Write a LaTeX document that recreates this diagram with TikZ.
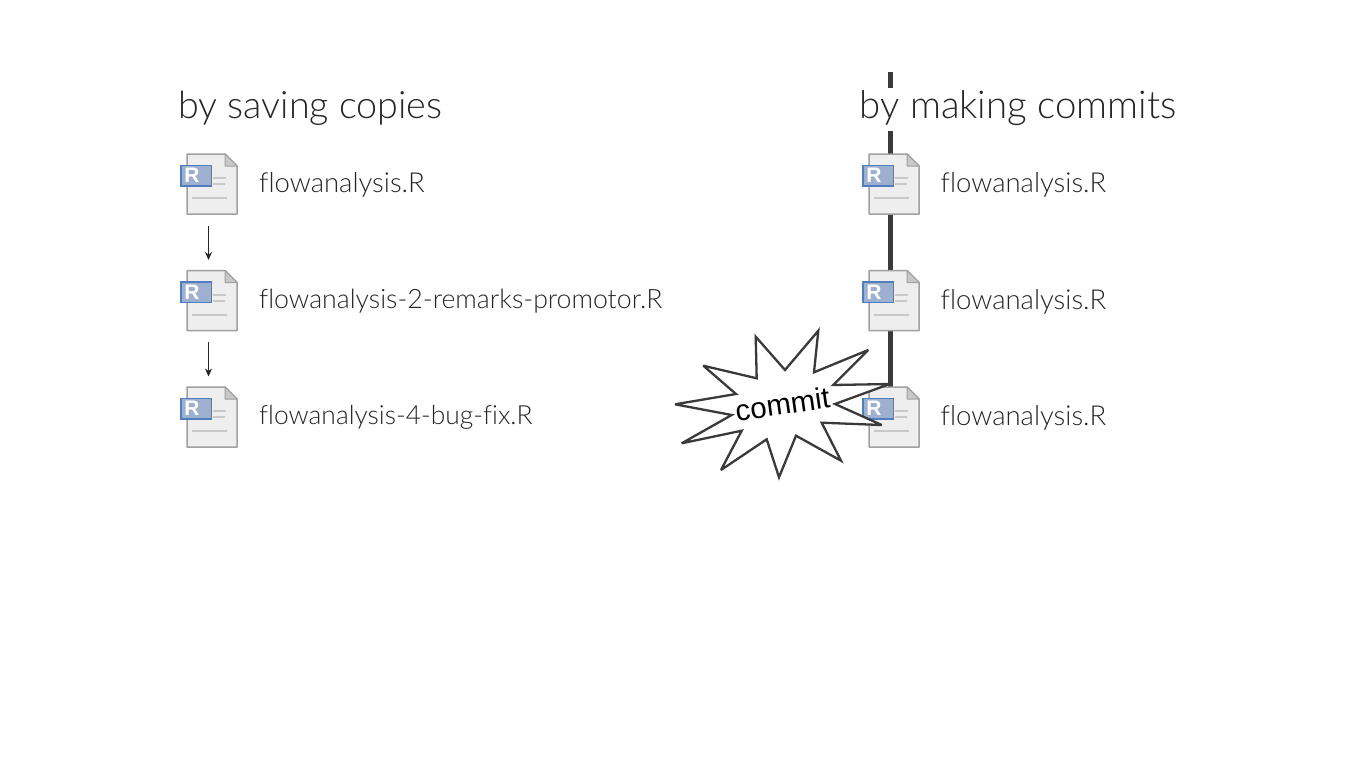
\documentclass[tikz,border=0pt]{standalone}
\usepackage{fontspec}
\setmainfont{Lato Light}[Ligatures=NoCommon]
\newfontfamily\starfont{Liberation Sans}
\usetikzlibrary{arrows.meta}
\definecolor{inkc}{HTML}{262626}
\definecolor{barc}{HTML}{3A3A3A}
\definecolor{paperc}{HTML}{EEEEEE}
\definecolor{edgec}{HTML}{A0A0A0}
\definecolor{foldc}{HTML}{C8C8C8}
\definecolor{markc}{HTML}{C8C8C8}
\definecolor{badgec}{HTML}{9DB0D0}
\definecolor{badgee}{HTML}{4F7DC0}
\tikzset{
  x=1pt,y=-1pt,
  filebox/.style={minimum width=50pt,minimum height=60pt,inner sep=0pt,outer sep=0pt},
  title/.style={anchor=base west,text=inkc,fill=white,inner ysep=0pt,inner xsep=1pt,text height=30pt,text depth=13pt},
  fname/.style={anchor=west,text=inkc,inner sep=0pt},
  short/.style={fname,font=\fontsize{27.5}{30}\selectfont},
  longn/.style={fname,font=\fontsize{26.7}{30}\selectfont},
  midn/.style={fname,font=\fontsize{26.4}{30}\selectfont},
  arr/.style={draw=black!85,line width=0.9pt,-{Stealth[length=8pt,width=7pt]}},
  hist/.style={draw=barc,line width=4.6pt},
  pics/ficon/.style={code={
    \path[fill=paperc,draw=edgec,line width=1.5pt,line join=round]
      (-25,-30) -- (13,-30) -- (25,-18) -- (25,30) -- (-25,30) -- cycle;
    \path[fill=foldc,draw=edgec,line width=1pt,line join=round]
      (13,-30) -- (13,-18) -- (25,-18) -- cycle;
    \draw[markc,line width=2pt] (1,-6) -- (14,-6) (1,0) -- (13,0) (-20,14) -- (15,14);
    \path[fill=badgec,draw=badgee,line width=1.5pt] (-31,-18.5) rectangle (-0.5,2);
    \node[text=white,font=\starfont\bfseries\fontsize{21}{22}\selectfont,inner sep=0pt] at (-20,-8.5) {R};
  }}
}
\begin{document}
\begin{tikzpicture}
\useasboundingbox (0,0) rectangle (1371,771);
\fill[white] (0,0) rectangle (1371,771);
% right column history line (behind everything)
\coordinate (histtop) at (890.5,72);
\node[filebox] (r1) at (894,184) {};
\node[filebox] (r2) at (894,300.5) {};
\node[filebox] (r3) at (894,417) {};
\draw[hist] (histtop) -- (r3.north -| histtop);
% titles
\node[title,font=\fontsize{37.7}{40}\selectfont] (t1) at (177,118) {by saving copies};
\node[title,font=\fontsize{38.4}{40}\selectfont] (t2) at (858.5,118) {by making commits};
% left column
\node[filebox] (l1) at (212,184) {};
\node[filebox] (l2) at (212,300.5) {};
\node[filebox] (l3) at (212,417) {};
\pic at (l1) {ficon};
\pic at (l2) {ficon};
\pic at (l3) {ficon};
\pic at (r1) {ficon};
\pic at (r2) {ficon};
\pic at (r3) {ficon};
\draw[arr] ([xshift=-3.5pt,yshift=-11.5pt]l1.south) -- ([xshift=-3.5pt,yshift=10.5pt]l2.north);
\draw[arr] ([xshift=-3.5pt,yshift=-11.5pt]l2.south) -- ([xshift=-3.5pt,yshift=10.5pt]l3.north);
% file names
\node[short] (n1) at (259,185) {flowanalysis.R};
\node[longn] (n2) at (259,301.5) {flowanalysis-2-remarks-promotor.R};
\node[midn] (n3) at (259,417.5) {flowanalysis-4-bug-fix.R};
\node[short] (m1) at (940.5,185) {flowanalysis.R};
\node[short] (m2) at (940.5,301.5) {flowanalysis.R};
\node[short] (m3) at (940.5,417.5) {flowanalysis.R};
% burst
\path[fill=white,draw=barc,line width=2.3pt,line join=miter,miter limit=4]
 (755.7,336.7) -- (785,370) -- (818.3,330.7) -- (814,372.3) -- (868.3,350) -- (833.3,385)
 -- (889.7,384) -- (835,404) -- (881.7,425) -- (821.7,422.7) -- (841,460.7) -- (796,435.7)
 -- (779,477.3) -- (766.7,439.3) -- (721,470) -- (741.7,430.7) -- (681.7,443.3) -- (731.7,415)
 -- (675,404.3) -- (736,394) -- (703.3,365.7) -- (756.7,378.3) -- cycle;
\node[rotate=8,font=\starfont\fontsize{29.5}{32}\selectfont,text=black,inner sep=0pt] (c) at (782.5,404) {commit};
\end{tikzpicture}
\end{document}
